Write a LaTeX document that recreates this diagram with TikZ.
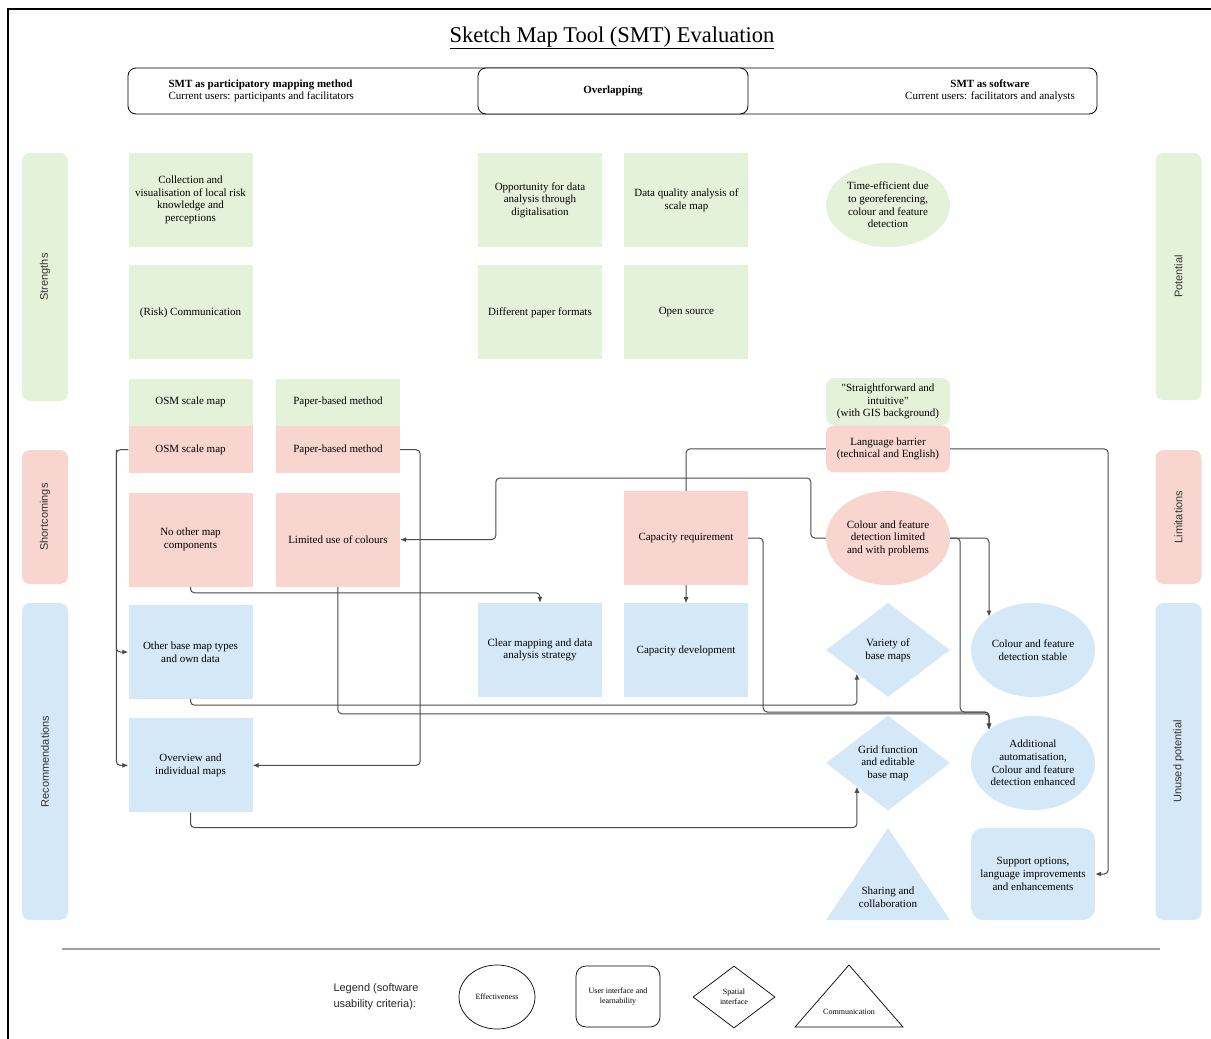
\documentclass[tikz,border=0pt]{standalone}
\usepackage{fontspec}
\setmainfont{Liberation Serif}[Ligatures=TeXOff]
\setsansfont{Liberation Sans}
\usepackage{tikz}
\usetikzlibrary{arrows.meta,positioning,shapes.geometric,calc,backgrounds}
\definecolor{goodfill}{HTML}{E5F2DA}
\definecolor{badfill}{HTML}{F8D6CF}
\definecolor{recfill}{HTML}{D5E8F8}
\definecolor{wire}{HTML}{4A4A4A}
\definecolor{muted}{HTML}{A0A0A0}
\newcommand\cellfont{\fontsize{11}{12.6}\selectfont}

\begin{document}
\begin{tikzpicture}[x=1pt, y=-1pt,
    cell/.style={minimum width=124pt, minimum height=94pt, inner sep=1pt, align=center, font=\cellfont},
    halfcell/.style={cell, minimum height=47pt},
    strength/.style={cell, fill=goodfill},
    weak/.style={cell, fill=badfill},
    advice/.style={cell, fill=recfill},
    lane/.style={rotate=90, minimum height=46pt, rounded corners=8pt, font=\sffamily\fontsize{11}{12}\selectfont, text=black!80},
    header/.style={draw, rounded corners=8pt, fill=white, minimum height=46pt, line width=0.8pt},
    key/.style={draw, line width=0.7pt, align=center, font=\fontsize{8}{9.5}\selectfont, inner sep=0pt},
    link/.style={-{Latex[length=6pt,width=5pt]}, line width=1pt, draw=wire, rounded corners=4pt}
]
    \useasboundingbox (0,0) rectangle (1211,1039);
    \draw[line width=2.5pt] (1211,9) -- (8,9) -- (8,1039);

    % title and header
    \node[font=\fontsize{22.5}{26}\selectfont] (title) at (612,38) {\underline{Sketch Map Tool (SMT) Evaluation}};
    \node[header, minimum width=969pt] (frame) at (612.5,91) {};
    \node[header, minimum width=270pt, font=\bfseries\cellfont] (overlap) at (613,91) {Overlapping};
    \node[anchor=west, align=left, font=\cellfont] (method) at (165,91) {\textbf{SMT as participatory mapping method}\\Current users: participants and facilitators};
    \node[align=center, font=\cellfont] (software) at (990,91) {\textbf{SMT as software}\\Current users: facilitators and analysts};

    % lanes
    \node[lane, fill=goodfill, minimum width=248pt] (strengths) at (45,277) {Strengths};
    \node[lane, fill=badfill, minimum width=134pt] (shortcomings) at (45,517) {Shortcomings};
    \node[lane, fill=recfill, minimum width=317pt] (recommend) at (45,761.5) {Recommendations};
    \node[lane, fill=goodfill, minimum width=247pt] (potential) at (1178.5,276.5) {Potential};
    \node[lane, fill=badfill, minimum width=134pt] (limits) at (1178.5,517) {Limitations};
    \node[lane, fill=recfill, minimum width=317pt] (unused) at (1178.5,761.5) {Unused potential};

    % strengths and potential
    \node[strength] (collect) at (190.5,200) {Collection and\\visualisation of local risk\\knowledge and\\perceptions};
    \node[strength, below=18pt of collect] (riskcomm) {(Risk) Communication};
    \node[strength, halfcell, below=19pt of riskcomm] (osmgood) {OSM scale map};
    \node[strength, halfcell, right=23pt of osmgood] (papergood) {Paper-based method};
    \node[strength] (digital) at (540,200) {Opportunity for data\\analysis through\\digitalisation};
    \node[strength, right=22pt of digital] (quality) {Data quality analysis of\\scale map};
    \node[strength, below=18pt of digital] (formats) {Different paper formats};
    \node[strength, below=18pt of quality] (opensrc) {Open source};
    \node[strength, ellipse, minimum height=84pt, inner sep=0pt] (timeeff) at (888,205) {Time-efficient due\\to georeferencing,\\colour and feature\\detection};
    \node[strength, halfcell, rounded corners=8pt] (intuitive) at (888,401.5) {"Straightforward and\\intuitive"\\(with GIS background)};

    % shortcomings and limitations
    \node[weak, halfcell, below=0pt of osmgood] (osmbad) {OSM scale map};
    \node[weak, halfcell, below=0pt of papergood] (paperbad) {Paper-based method};
    \node[weak, below=19pt of osmbad] (nocomp) {No other map\\components};
    \node[weak, below=19pt of paperbad] (limcol) {Limited use of colours};
    \node[weak] (capreq) at (686,538) {Capacity requirement};
    \node[weak, halfcell, rounded corners=8pt, below=0pt of intuitive] (language) {Language barrier\\(technical and English)};
    \node[weak, ellipse, inner sep=0pt] (detlimit) at (888,538) {Colour and feature\\detection limited\\and with problems};

    % recommendations and unused potential
    \node[advice, below=18pt of nocomp] (otherbase) {Other base map types\\and own data};
    \node[advice, below=19pt of otherbase] (overview) {Overview and\\individual maps};
    \node[advice] (strategy) at (540,650) {Clear mapping and data\\analysis strategy};
    \node[advice, below=18pt of capreq] (capdev) {Capacity development};
    \node[advice, diamond, inner sep=0pt] (variety) at (888,650) {Variety of\\base maps};
    \node[advice, ellipse, inner sep=0pt] (stable) at (1033,650) {Colour and feature\\detection stable};
    \node[advice, diamond, inner sep=0pt] (grid) at (888,763) {Grid function\\and editable\\base map};
    \node[advice, ellipse, inner sep=0pt] (enhanced) at (1033,763) {Additional\\automatisation,\\Colour and feature\\detection enhanced};
    \node[advice, rounded corners=12pt, minimum height=92pt] (support) at (1033,874) {Support options,\\language improvements\\and enhancements};
    \fill[recfill] (826,920) -- (888,828) -- (950,920) -- cycle;
    \node[align=center, font=\cellfont] (sharing) at (888,897) {Sharing and\\collaboration};

    % connectors
    \draw[link] (osmbad.west) -- ++(-12,0) coordinate (osmbend) |- (otherbase.west);
    \draw[link] (osmbend) |- (overview.west);
    \draw[link] (paperbad.east) -- ++(20,0) |- (overview.east);
    \draw[link] (nocomp.south) -- ++(0,6) -| (strategy.north);
    \draw[link] (limcol.south) -- ++(0,127) -| (enhanced.north west);
    \draw[link] (capreq.east) -- ++(15,0) -- ++(0,174) -| (enhanced.north west);
    \draw[link] (detlimit.east) -| (stable.north west);
    \draw[link] (detlimit.east) -- ++(10,0) -- ++(0,174) -| (enhanced.north west);
    \draw[link] (detlimit.west) -- ++(-15,0) -- ++(0,-60) -- ++(-315,0) |- (limcol.east);
    \draw[link] (language.east) -- ++(158,0) |- (support.east);
    \draw[link] (otherbase.south) -- ++(0,6) -| ($(variety.south)!0.5!(variety.west)$);
    \draw[link] (overview.south) -- ++(0,15) -| ($(grid.south)!0.5!(grid.west)$);
    \begin{scope}[on background layer]
        \draw[link] (language.west) -| (capdev.north);
    \end{scope}

    % legend
    \draw[muted, line width=1.3pt] (62,949) -- (1160,949);
    \node[font=\sffamily\fontsize{11}{16}\selectfont, align=left, text=black!85] (legend) at (376,997) {Legend (software\\usability criteria):};
    \node[key, ellipse, minimum width=76pt, minimum height=64pt] (keyeff) at (497,997) {Effectiveness};
    \node[key, rounded corners=10pt, minimum width=84pt, minimum height=61pt] (keyui) at (618,996.5) {User interface and\\learnability};
    \node[key, diamond, minimum width=82pt, minimum height=62pt] (keyspatial) at (734,997) {Spatial\\interface};
    \draw[line width=0.7pt] (795,1027) -- (849,965) -- (903,1027) -- cycle;
    \node[font=\fontsize{8}{9.5}\selectfont] (keycomm) at (849,1012) {Communication};
\end{tikzpicture}
\end{document}
